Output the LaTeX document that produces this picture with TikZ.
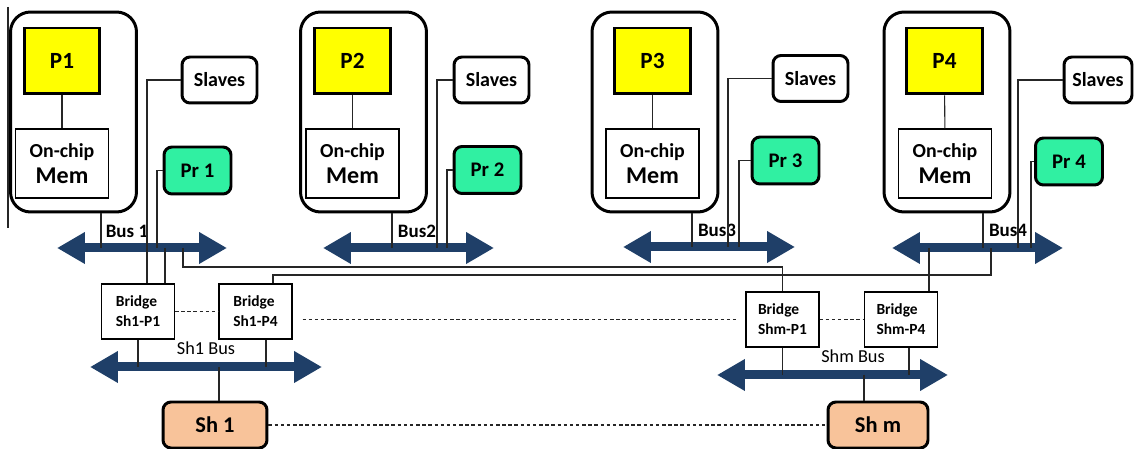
\documentclass[tikz,border=0pt]{standalone}
\usepackage{fontspec}
\setmainfont{Carlito}
\usepackage{xcolor}
\usetikzlibrary{arrows.meta}

\definecolor{busblue}{HTML}{1F3F68}
\definecolor{procyellow}{HTML}{FFFF00}
\definecolor{prgreen}{HTML}{30F0A2}
\definecolor{shpeach}{HTML}{F8C39A}

\tikzset{
  box/.style={draw, inner sep=0pt, align=center},
  group/.style={box, line width=1.7pt, rounded corners=0.4cm, minimum width=2.52cm, minimum height=4cm},
  proc/.style={box, line width=1.7pt, fill=procyellow, minimum width=1.52cm, minimum height=1.32cm, font=\bfseries\fontsize{13.2}{15}\selectfont},
  mem/.style={box, line width=0.6pt, minimum width=1.86cm, minimum height=1.38cm, font=\bfseries\fontsize{11.3}{13}\selectfont},
  slaves/.style={box, line width=1.7pt, rounded corners=0.16cm, minimum width=1.5cm, minimum height=0.92cm, font=\bfseries\fontsize{11.4}{14}\selectfont},
  prbox/.style={box, line width=1.7pt, rounded corners=0.16cm, fill=prgreen, minimum width=1.34cm, minimum height=0.94cm, font=\bfseries\fontsize{11.8}{14}\selectfont},
  bridge/.style={box, line width=0.6pt, minimum width=1.46cm, minimum height=1.1cm, align=left, font=\bfseries\fontsize{8.8}{11.3}\selectfont},
  shbox/.style={box, line width=1.7pt, rounded corners=0.16cm, fill=shpeach, minimum height=0.92cm, font=\bfseries\fontsize{12.8}{15}\selectfont},
  bus/.style={line width=0.18cm, color=busblue, arrows={Triangle[length=0.56cm,width=0.6cm]-Triangle[length=0.56cm,width=0.6cm]}},
  wire/.style={line width=0.6pt, color=black!85},
  dashwire/.style={wire, dash pattern=on 2pt off 1.5pt},
  buslabel/.style={inner sep=0pt, font=\bfseries\fontsize{10.8}{13}\selectfont},
  shlabel/.style={inner sep=0pt, font=\fontsize{10.4}{13}\selectfont},
}

\begin{document}
\begin{tikzpicture}[x=0.02cm, y=-0.02cm]
  \useasboundingbox (0,0) rectangle (1134,449);
  \draw[wire] (8,7) -- (8,228);

  % processor groups
  \node[group] (G1) at (73.5,112) {};
  \node[group] (G2) at (363.5,112) {};
  \node[group] (G3) at (655,112) {};
  \node[group] (G4) at (947,112) {};

  \node[proc] (P1) at (62,61) {P1};
  \node[proc] (P2) at (352.5,61) {P2};
  \node[proc] (P3) at (652.5,61) {P3};
  \node[proc] (P4) at (944.5,61) {P4};

  \node[mem] (M1) at (62,163.5) {On-chip\\[2pt]{\fontsize{13.7}{16}\selectfont Mem}};
  \node[mem] (M2) at (352.5,163.5) {On-chip\\[2pt]{\fontsize{13.7}{16}\selectfont Mem}};
  \node[mem] (M3) at (652.5,163.5) {On-chip\\[2pt]{\fontsize{13.7}{16}\selectfont Mem}};
  \node[mem] (M4) at (945,163.5) {On-chip\\[2pt]{\fontsize{13.7}{16}\selectfont Mem}};

  \draw[wire] (P1) -- (M1);
  \draw[wire] (P2) -- (M2);
  \draw[wire] (P3) -- (M3);
  \draw[wire] (P4) -- (M4);

  \node[slaves] (S1) at (219.5,80) {Slaves};
  \node[slaves] (S2) at (491.5,80) {Slaves};
  \node[slaves] (S3) at (810.5,78.5) {Slaves};
  \node[slaves, minimum width=1.36cm] (S4) at (1098,80) {Slaves};

  \node[prbox] (Pr1) at (197.5,170.5) {Pr 1};
  \node[prbox] (Pr2) at (487.5,170) {Pr 2};
  \node[prbox] (Pr3) at (785.5,160.5) {Pr 3};
  \node[prbox] (Pr4) at (1069,161.5) {Pr 4};

  % buses
  \coordinate (B1w) at (57,248);   \coordinate (B1e) at (227,248);
  \coordinate (B2w) at (323,248);  \coordinate (B2e) at (494,248);
  \coordinate (B3w) at (623,247);  \coordinate (B3e) at (795,247);
  \coordinate (B4w) at (892,248);  \coordinate (B4e) at (1063,248);
  \coordinate (Bs1w) at (90,367);  \coordinate (Bs1e) at (322,367);
  \coordinate (Bsmw) at (717,375); \coordinate (Bsme) at (948,375);

  \draw[bus] (B1w) -- (B1e);
  \draw[bus] (B2w) -- (B2e);
  \draw[bus] (B3w) -- (B3e);
  \draw[bus] (B4w) -- (B4e);
  \draw[bus] (Bs1w) -- (Bs1e);
  \draw[bus] (Bsmw) -- (Bsme);

  \node[buslabel] (L1) at (127,231) {Bus 1};
  \node[buslabel] (L2) at (417,231) {Bus2};
  \node[buslabel] (L3) at (717,230) {Bus3};
  \node[buslabel] (L4) at (1008,230) {Bus4};
  \node[shlabel] (Ls1) at (206,348) {Sh1 Bus};
  \node[shlabel] (Lsm) at (853,356) {Shm Bus};

  % bridges and shared memories
  \node[bridge] (BR1) at (138,311.5) {Bridge\\Sh1-P1};
  \node[bridge] (BR2) at (255.5,311.5) {Bridge\\Sh1-P4};
  \node[bridge] (BR3) at (782.5,319.5) {Bridge\\Shm-P1};
  \node[bridge] (BR4) at (901,319.5) {Bridge\\Shm-P4};

  \node[shbox, minimum width=2.08cm] (Sh1) at (215,425) {Sh 1};
  \node[shbox, minimum width=2cm] (Shm) at (878,425) {Sh m};

  % local bus wires
  \draw[wire] (101,0 |- G1.south) -- (101,0 |- B1w);
  \draw[wire] (S1.west) -| (147,0 |- B1w);
  \draw[wire] (Pr1.west) -| (157,0 |- B1w);

  \draw[wire] (392,0 |- G2.south) -- (392,0 |- B2w);
  \draw[wire] (S2.west) -| (437,0 |- B2w);
  \draw[wire] (Pr2.west) -| (447,0 |- B2w);

  \draw[wire] (692,0 |- G3.south) -- (692,0 |- B3w);
  \draw[wire] (S3.west) -| (728,0 |- B3w);
  \draw[wire] (Pr3.west) -| (739,0 |- B3w);

  \draw[wire] (983,0 |- G4.south) -- (983,0 |- B4w);
  \draw[wire] (S4.west) -| (1018,0 |- B4w);
  \draw[wire] (Pr4.west) -| (1031,0 |- B4w);

  % bridge wires
  \draw[wire] (147,0 |- B1w) -- (147,0 |- BR1.north);
  \draw[wire] (165,0 |- B1w) -- (165,0 |- BR1.north);
  \draw[wire] (183,0 |- B1w) -- (183,267) -| (BR3.north);
  \draw[wire] (991,0 |- B4w) -- (991,275) -| (273,0 |- BR2.north);
  \draw[wire] (929,0 |- B4w) -- (929,0 |- BR4.north);

  \draw[wire] (BR1.south) -- (BR1.south |- Bs1w);
  \draw[wire] (266,0 |- BR2.south) -- (266,0 |- Bs1w);
  \draw[wire] (219,0 |- Bs1w) -- (219,0 |- Sh1.north);
  \draw[wire] (BR3.south) -- (BR3.south |- Bsmw);
  \draw[wire] (909,0 |- BR4.south) -- (909,0 |- Bsmw);
  \draw[wire] (864,0 |- Bsmw) -- (864,0 |- Shm.north);

  \draw[dashwire] (BR1.east) -- (BR2.west);
  \draw[dashwire, shorten <=0.2cm, shorten >=0.18cm] (BR2.east |- BR3.west) -- (BR3.west);
  \draw[dashwire] (BR3.east) -- (BR4.west);
  \draw[dashwire] (Sh1.east) -- (Shm.west);

\end{tikzpicture}
\end{document}
